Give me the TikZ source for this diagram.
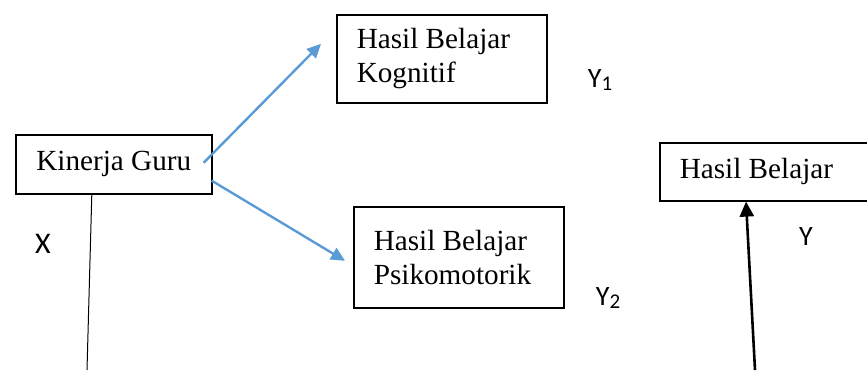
\documentclass[tikz,border=0pt]{standalone}
\usepackage{fontspec}
\setmainfont{Liberation Serif}
\newfontfamily\lblfont{Carlito}
\usetikzlibrary{arrows.meta}
\definecolor{arrowblue}{RGB}{91,155,213}

\begin{document}
\begin{tikzpicture}[x=0.5pt,y=-0.5pt,
    box/.style={draw, line width=0.8pt, anchor=north west, inner xsep=10pt,
      inner ysep=0pt, align=flush left, font=\fontsize{14.6}{17}\selectfont},
    var/.style={font=\lblfont\fontsize{14}{16}\selectfont},
    bluearrow/.style={draw=arrowblue, line width=1.2pt, -{Triangle[length=7pt,width=6.5pt]}}]
  \useasboundingbox (0,0) rectangle (867,370);
  % boxes
  \node[box, minimum width=98pt, minimum height=29.5pt] (guru) at (15,134) {Kinerja Guru};
  \node[box, text width=85pt, minimum height=44pt] (kognitif) at (336,14) {Hasil Belajar\\Kognitif};
  \node[box, text width=85pt, minimum height=50.5pt] (psiko) at (353,206) {Hasil Belajar\\Psikomotorik};
  \node[box, text width=86.5pt, minimum height=29pt] (hasil) at (659,142) {Hasil Belajar};
  % variable labels
  \node[var, font=\lblfont\fontsize{15}{17}\selectfont] (xlab) at (43,244) {X};
  \node[var] (yonelab) at (600,80) {Y\raisebox{-0.12em}{\fontsize{10.5}{11}\selectfont 1}};
  \node[var] (ytwolab) at (608,298) {Y\raisebox{-0.12em}{\fontsize{10.5}{11}\selectfont 2}};
  \node[var] (ylab) at (806,237) {Y};
  % connectors
  \draw[bluearrow] ([xshift=-4.5pt,yshift=0.75pt]guru.east) -- ([xshift=-7.5pt,yshift=7.5pt]kognitif.west);
  \draw[bluearrow] ([xshift=-0.5pt,yshift=7pt]guru.south east) -- ([xshift=-4pt,yshift=-1.75pt]psiko.west);
  \coordinate (xbot) at (87,370);
  \coordinate (ybot) at (755,370);
  \draw[line width=0.5pt] ([xshift=-11pt]guru.south) -- (xbot);
  \draw[line width=1.3pt, -{Triangle[length=7.5pt,width=7pt]}] (ybot) -- ([xshift=43.5pt]hasil.south west);
\end{tikzpicture}
\end{document}
